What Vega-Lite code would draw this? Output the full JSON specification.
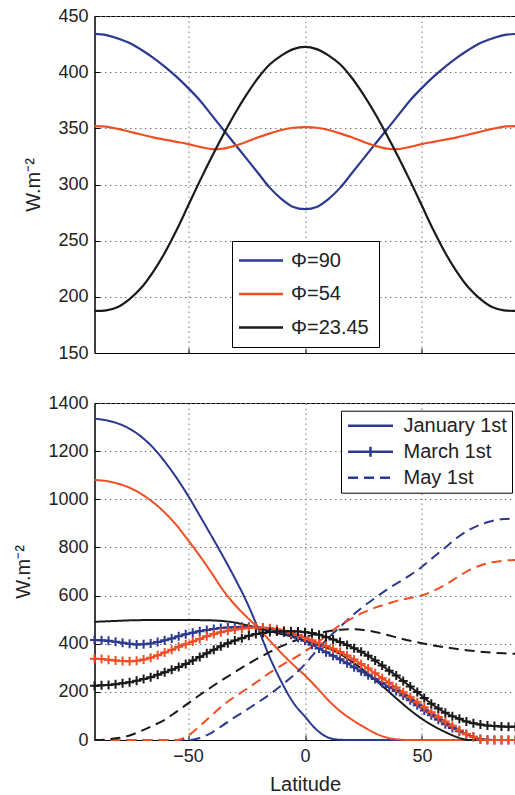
{
"$schema": "https://vega.github.io/schema/vega-lite/v6.json",
"background": "white",
"padding": {"left": 12.5, "top": 6, "right": 0, "bottom": 3},
"spacing": 30,
"config": {
 "font": "Liberation Sans",
 "view": {"stroke": "#000", "strokeWidth": 1},
 "axis": {"labelFont": "Liberation Sans", "labelFontSize": 18, "labelColor": "#222", "titleFont": "Liberation Sans", "titleFontSize": 20, "titleFontWeight": "normal", "titleColor": "#222", "domainColor": "#000", "domainWidth": 1, "tickColor": "#000", "tickSize": -5, "grid": true, "gridColor": "#777", "gridDash": [1.5, 3.5], "gridWidth": 1, "format": "d"},
 "axisY": {"labelPadding": 11.5, "titlePadding": 14},
 "axisX": {"labelPadding": 12, "titlePadding": 9},
 "legend": {"labelFont": "Liberation Sans", "labelFontSize": 20, "labelColor": "#222", "strokeColor": "#000", "fillColor": "#fff", "cornerRadius": 0}
},
"resolve": {"scale": {"color": "independent"}, "legend": {"color": "independent", "strokeDash": "independent"}},
"datasets": {
 "top": [
{"x":-90,"s":"Φ=90","w":434},{"x":-85,"s":"Φ=90","w":433},{"x":-80,"s":"Φ=90","w":430},{"x":-75,"s":"Φ=90","w":426},{"x":-70,"s":"Φ=90","w":420},{"x":-65,"s":"Φ=90","w":413},{"x":-60,"s":"Φ=90","w":405},{"x":-55,"s":"Φ=90","w":396},{"x":-50,"s":"Φ=90","w":386},{"x":-45,"s":"Φ=90","w":375},{"x":-40,"s":"Φ=90","w":362},{"x":-35,"s":"Φ=90","w":349},{"x":-30,"s":"Φ=90","w":336},{"x":-25,"s":"Φ=90","w":323},{"x":-20,"s":"Φ=90","w":310},{"x":-15,"s":"Φ=90","w":297},{"x":-10,"s":"Φ=90","w":287},{"x":-5,"s":"Φ=90","w":280},{"x":0,"s":"Φ=90","w":278},{"x":5,"s":"Φ=90","w":280},{"x":10,"s":"Φ=90","w":287},{"x":15,"s":"Φ=90","w":297},{"x":20,"s":"Φ=90","w":310},{"x":25,"s":"Φ=90","w":323},{"x":30,"s":"Φ=90","w":336},{"x":35,"s":"Φ=90","w":349},{"x":40,"s":"Φ=90","w":362},{"x":45,"s":"Φ=90","w":375},{"x":50,"s":"Φ=90","w":386},{"x":55,"s":"Φ=90","w":396},{"x":60,"s":"Φ=90","w":405},{"x":65,"s":"Φ=90","w":413},{"x":70,"s":"Φ=90","w":420},{"x":75,"s":"Φ=90","w":426},{"x":80,"s":"Φ=90","w":430},{"x":85,"s":"Φ=90","w":433},{"x":90,"s":"Φ=90","w":434},
{"x":-90,"s":"Φ=54","w":352},{"x":-85,"s":"Φ=54","w":351.5},{"x":-80,"s":"Φ=54","w":349.5},{"x":-75,"s":"Φ=54","w":347},{"x":-70,"s":"Φ=54","w":344.5},{"x":-65,"s":"Φ=54","w":342},{"x":-60,"s":"Φ=54","w":340},{"x":-55,"s":"Φ=54","w":338},{"x":-50,"s":"Φ=54","w":336},{"x":-45,"s":"Φ=54","w":333.5},{"x":-40,"s":"Φ=54","w":331.5},{"x":-35,"s":"Φ=54","w":332},{"x":-30,"s":"Φ=54","w":334.5},{"x":-25,"s":"Φ=54","w":338},{"x":-20,"s":"Φ=54","w":342},{"x":-15,"s":"Φ=54","w":345.5},{"x":-10,"s":"Φ=54","w":348.5},{"x":-5,"s":"Φ=54","w":350.5},{"x":0,"s":"Φ=54","w":351},{"x":5,"s":"Φ=54","w":350.5},{"x":10,"s":"Φ=54","w":348.5},{"x":15,"s":"Φ=54","w":345.5},{"x":20,"s":"Φ=54","w":342},{"x":25,"s":"Φ=54","w":338},{"x":30,"s":"Φ=54","w":334.5},{"x":35,"s":"Φ=54","w":332},{"x":40,"s":"Φ=54","w":331.5},{"x":45,"s":"Φ=54","w":333.5},{"x":50,"s":"Φ=54","w":336},{"x":55,"s":"Φ=54","w":338},{"x":60,"s":"Φ=54","w":340},{"x":65,"s":"Φ=54","w":342},{"x":70,"s":"Φ=54","w":344.5},{"x":75,"s":"Φ=54","w":347},{"x":80,"s":"Φ=54","w":349.5},{"x":85,"s":"Φ=54","w":351.5},{"x":90,"s":"Φ=54","w":352},
{"x":-90,"s":"Φ=23.45","w":187.5},{"x":-85,"s":"Φ=23.45","w":188},{"x":-80,"s":"Φ=23.45","w":191},{"x":-75,"s":"Φ=23.45","w":198},{"x":-70,"s":"Φ=23.45","w":208},{"x":-65,"s":"Φ=23.45","w":222},{"x":-60,"s":"Φ=23.45","w":239},{"x":-55,"s":"Φ=23.45","w":259},{"x":-50,"s":"Φ=23.45","w":281},{"x":-45,"s":"Φ=23.45","w":303},{"x":-40,"s":"Φ=23.45","w":324},{"x":-35,"s":"Φ=23.45","w":344},{"x":-30,"s":"Φ=23.45","w":363},{"x":-25,"s":"Φ=23.45","w":380},{"x":-20,"s":"Φ=23.45","w":395},{"x":-15,"s":"Φ=23.45","w":407},{"x":-10,"s":"Φ=23.45","w":415},{"x":-5,"s":"Φ=23.45","w":420.5},{"x":0,"s":"Φ=23.45","w":422.5},{"x":5,"s":"Φ=23.45","w":420.5},{"x":10,"s":"Φ=23.45","w":415},{"x":15,"s":"Φ=23.45","w":407},{"x":20,"s":"Φ=23.45","w":395},{"x":25,"s":"Φ=23.45","w":380},{"x":30,"s":"Φ=23.45","w":363},{"x":35,"s":"Φ=23.45","w":344},{"x":40,"s":"Φ=23.45","w":324},{"x":45,"s":"Φ=23.45","w":303},{"x":50,"s":"Φ=23.45","w":281},{"x":55,"s":"Φ=23.45","w":259},{"x":60,"s":"Φ=23.45","w":239},{"x":65,"s":"Φ=23.45","w":222},{"x":70,"s":"Φ=23.45","w":208},{"x":75,"s":"Φ=23.45","w":198},{"x":80,"s":"Φ=23.45","w":191},{"x":85,"s":"Φ=23.45","w":188},{"x":90,"s":"Φ=23.45","w":187.5}
 ],
 "bot": [
{"x":-90,"s":"90","d":"January 1st","w":1335},{"x":-85,"s":"90","d":"January 1st","w":1328},{"x":-80,"s":"90","d":"January 1st","w":1315},{"x":-75,"s":"90","d":"January 1st","w":1293},{"x":-70,"s":"90","d":"January 1st","w":1260},{"x":-65,"s":"90","d":"January 1st","w":1215},{"x":-60,"s":"90","d":"January 1st","w":1157},{"x":-55,"s":"90","d":"January 1st","w":1090},{"x":-50,"s":"90","d":"January 1st","w":1015},{"x":-45,"s":"90","d":"January 1st","w":932},{"x":-40,"s":"90","d":"January 1st","w":848},{"x":-35,"s":"90","d":"January 1st","w":762},{"x":-30,"s":"90","d":"January 1st","w":672},{"x":-25,"s":"90","d":"January 1st","w":575},{"x":-20,"s":"90","d":"January 1st","w":462},{"x":-15,"s":"90","d":"January 1st","w":342},{"x":-10,"s":"90","d":"January 1st","w":240},{"x":-5,"s":"90","d":"January 1st","w":155},{"x":0,"s":"90","d":"January 1st","w":97},{"x":5,"s":"90","d":"January 1st","w":42},{"x":10,"s":"90","d":"January 1st","w":10},{"x":15,"s":"90","d":"January 1st","w":1},{"x":20,"s":"90","d":"January 1st","w":0},{"x":25,"s":"90","d":"January 1st","w":0},{"x":30,"s":"90","d":"January 1st","w":0},{"x":35,"s":"90","d":"January 1st","w":0},{"x":40,"s":"90","d":"January 1st","w":0},{"x":45,"s":"90","d":"January 1st","w":0},{"x":50,"s":"90","d":"January 1st","w":0},{"x":55,"s":"90","d":"January 1st","w":0},{"x":60,"s":"90","d":"January 1st","w":0},{"x":65,"s":"90","d":"January 1st","w":0},{"x":70,"s":"90","d":"January 1st","w":0},{"x":75,"s":"90","d":"January 1st","w":0},{"x":80,"s":"90","d":"January 1st","w":0},{"x":85,"s":"90","d":"January 1st","w":0},{"x":90,"s":"90","d":"January 1st","w":0},
{"x":-90,"s":"54","d":"January 1st","w":1080},{"x":-85,"s":"54","d":"January 1st","w":1076},{"x":-80,"s":"54","d":"January 1st","w":1065},{"x":-75,"s":"54","d":"January 1st","w":1048},{"x":-70,"s":"54","d":"January 1st","w":1022},{"x":-65,"s":"54","d":"January 1st","w":988},{"x":-60,"s":"54","d":"January 1st","w":945},{"x":-55,"s":"54","d":"January 1st","w":893},{"x":-50,"s":"54","d":"January 1st","w":830},{"x":-45,"s":"54","d":"January 1st","w":765},{"x":-40,"s":"54","d":"January 1st","w":695},{"x":-35,"s":"54","d":"January 1st","w":622},{"x":-30,"s":"54","d":"January 1st","w":562},{"x":-25,"s":"54","d":"January 1st","w":512},{"x":-20,"s":"54","d":"January 1st","w":465},{"x":-15,"s":"54","d":"January 1st","w":412},{"x":-10,"s":"54","d":"January 1st","w":360},{"x":-5,"s":"54","d":"January 1st","w":312},{"x":0,"s":"54","d":"January 1st","w":268},{"x":5,"s":"54","d":"January 1st","w":218},{"x":10,"s":"54","d":"January 1st","w":165},{"x":15,"s":"54","d":"January 1st","w":120},{"x":20,"s":"54","d":"January 1st","w":85},{"x":25,"s":"54","d":"January 1st","w":55},{"x":30,"s":"54","d":"January 1st","w":28},{"x":35,"s":"54","d":"January 1st","w":10},{"x":40,"s":"54","d":"January 1st","w":2},{"x":45,"s":"54","d":"January 1st","w":0},{"x":50,"s":"54","d":"January 1st","w":0},{"x":55,"s":"54","d":"January 1st","w":0},{"x":60,"s":"54","d":"January 1st","w":0},{"x":65,"s":"54","d":"January 1st","w":0},{"x":70,"s":"54","d":"January 1st","w":0},{"x":75,"s":"54","d":"January 1st","w":0},{"x":80,"s":"54","d":"January 1st","w":0},{"x":85,"s":"54","d":"January 1st","w":0},{"x":90,"s":"54","d":"January 1st","w":0},
{"x":-90,"s":"23.45","d":"January 1st","w":491},{"x":-85,"s":"23.45","d":"January 1st","w":493},{"x":-80,"s":"23.45","d":"January 1st","w":495},{"x":-75,"s":"23.45","d":"January 1st","w":497},{"x":-70,"s":"23.45","d":"January 1st","w":498},{"x":-65,"s":"23.45","d":"January 1st","w":499},{"x":-60,"s":"23.45","d":"January 1st","w":499},{"x":-55,"s":"23.45","d":"January 1st","w":499},{"x":-50,"s":"23.45","d":"January 1st","w":499},{"x":-45,"s":"23.45","d":"January 1st","w":498},{"x":-40,"s":"23.45","d":"January 1st","w":497},{"x":-35,"s":"23.45","d":"January 1st","w":494},{"x":-30,"s":"23.45","d":"January 1st","w":488},{"x":-25,"s":"23.45","d":"January 1st","w":477},{"x":-20,"s":"23.45","d":"January 1st","w":465},{"x":-15,"s":"23.45","d":"January 1st","w":452},{"x":-10,"s":"23.45","d":"January 1st","w":440},{"x":-5,"s":"23.45","d":"January 1st","w":428},{"x":0,"s":"23.45","d":"January 1st","w":412},{"x":5,"s":"23.45","d":"January 1st","w":397},{"x":10,"s":"23.45","d":"January 1st","w":381},{"x":15,"s":"23.45","d":"January 1st","w":357},{"x":20,"s":"23.45","d":"January 1st","w":326},{"x":25,"s":"23.45","d":"January 1st","w":290},{"x":30,"s":"23.45","d":"January 1st","w":250},{"x":35,"s":"23.45","d":"January 1st","w":208},{"x":40,"s":"23.45","d":"January 1st","w":165},{"x":45,"s":"23.45","d":"January 1st","w":124},{"x":50,"s":"23.45","d":"January 1st","w":88},{"x":55,"s":"23.45","d":"January 1st","w":58},{"x":60,"s":"23.45","d":"January 1st","w":33},{"x":65,"s":"23.45","d":"January 1st","w":12},{"x":70,"s":"23.45","d":"January 1st","w":0},{"x":75,"s":"23.45","d":"January 1st","w":0},{"x":80,"s":"23.45","d":"January 1st","w":0},{"x":85,"s":"23.45","d":"January 1st","w":0},{"x":90,"s":"23.45","d":"January 1st","w":0},
{"x":-90,"s":"90","d":"March 1st","w":415},{"x":-87,"s":"90","d":"March 1st","w":414},{"x":-84,"s":"90","d":"March 1st","w":412},{"x":-81,"s":"90","d":"March 1st","w":408},{"x":-78,"s":"90","d":"March 1st","w":404},{"x":-75,"s":"90","d":"March 1st","w":400},{"x":-72,"s":"90","d":"March 1st","w":397},{"x":-69,"s":"90","d":"March 1st","w":398},{"x":-66,"s":"90","d":"March 1st","w":401},{"x":-63,"s":"90","d":"March 1st","w":407},{"x":-60,"s":"90","d":"March 1st","w":414},{"x":-57,"s":"90","d":"March 1st","w":422},{"x":-54,"s":"90","d":"March 1st","w":431},{"x":-51,"s":"90","d":"March 1st","w":439},{"x":-48,"s":"90","d":"March 1st","w":446},{"x":-45,"s":"90","d":"March 1st","w":452},{"x":-42,"s":"90","d":"March 1st","w":457},{"x":-39,"s":"90","d":"March 1st","w":461},{"x":-36,"s":"90","d":"March 1st","w":465},{"x":-33,"s":"90","d":"March 1st","w":467},{"x":-30,"s":"90","d":"March 1st","w":469},{"x":-27,"s":"90","d":"March 1st","w":470},{"x":-24,"s":"90","d":"March 1st","w":470},{"x":-21,"s":"90","d":"March 1st","w":469},{"x":-18,"s":"90","d":"March 1st","w":466},{"x":-15,"s":"90","d":"March 1st","w":462},{"x":-12,"s":"90","d":"March 1st","w":455},{"x":-9,"s":"90","d":"March 1st","w":447},{"x":-6,"s":"90","d":"March 1st","w":437},{"x":-3,"s":"90","d":"March 1st","w":425},{"x":0,"s":"90","d":"March 1st","w":412},{"x":3,"s":"90","d":"March 1st","w":396},{"x":6,"s":"90","d":"March 1st","w":380},{"x":9,"s":"90","d":"March 1st","w":365},{"x":12,"s":"90","d":"March 1st","w":350},{"x":15,"s":"90","d":"March 1st","w":335},{"x":18,"s":"90","d":"March 1st","w":319},{"x":21,"s":"90","d":"March 1st","w":302},{"x":24,"s":"90","d":"March 1st","w":286},{"x":27,"s":"90","d":"March 1st","w":269},{"x":30,"s":"90","d":"March 1st","w":253},{"x":33,"s":"90","d":"March 1st","w":237},{"x":36,"s":"90","d":"March 1st","w":220},{"x":39,"s":"90","d":"March 1st","w":204},{"x":42,"s":"90","d":"March 1st","w":185},{"x":45,"s":"90","d":"March 1st","w":165},{"x":48,"s":"90","d":"March 1st","w":144},{"x":51,"s":"90","d":"March 1st","w":123},{"x":54,"s":"90","d":"March 1st","w":103},{"x":57,"s":"90","d":"March 1st","w":84},{"x":60,"s":"90","d":"March 1st","w":65},{"x":63,"s":"90","d":"March 1st","w":50},{"x":66,"s":"90","d":"March 1st","w":36},{"x":69,"s":"90","d":"March 1st","w":24},{"x":72,"s":"90","d":"March 1st","w":13},{"x":75,"s":"90","d":"March 1st","w":4},{"x":78,"s":"90","d":"March 1st","w":1},{"x":81,"s":"90","d":"March 1st","w":0},{"x":84,"s":"90","d":"March 1st","w":0},{"x":87,"s":"90","d":"March 1st","w":0},{"x":90,"s":"90","d":"March 1st","w":0},
{"x":-90,"s":"54","d":"March 1st","w":338},{"x":-87,"s":"54","d":"March 1st","w":336},{"x":-84,"s":"54","d":"March 1st","w":333},{"x":-81,"s":"54","d":"March 1st","w":330},{"x":-78,"s":"54","d":"March 1st","w":328},{"x":-75,"s":"54","d":"March 1st","w":327},{"x":-72,"s":"54","d":"March 1st","w":329},{"x":-69,"s":"54","d":"March 1st","w":334},{"x":-66,"s":"54","d":"March 1st","w":342},{"x":-63,"s":"54","d":"March 1st","w":352},{"x":-60,"s":"54","d":"March 1st","w":363},{"x":-57,"s":"54","d":"March 1st","w":375},{"x":-54,"s":"54","d":"March 1st","w":387},{"x":-51,"s":"54","d":"March 1st","w":398},{"x":-48,"s":"54","d":"March 1st","w":409},{"x":-45,"s":"54","d":"March 1st","w":420},{"x":-42,"s":"54","d":"March 1st","w":431},{"x":-39,"s":"54","d":"March 1st","w":440},{"x":-36,"s":"54","d":"March 1st","w":448},{"x":-33,"s":"54","d":"March 1st","w":454},{"x":-30,"s":"54","d":"March 1st","w":459},{"x":-27,"s":"54","d":"March 1st","w":463},{"x":-24,"s":"54","d":"March 1st","w":466},{"x":-21,"s":"54","d":"March 1st","w":467},{"x":-18,"s":"54","d":"March 1st","w":466},{"x":-15,"s":"54","d":"March 1st","w":464},{"x":-12,"s":"54","d":"March 1st","w":460},{"x":-9,"s":"54","d":"March 1st","w":454},{"x":-6,"s":"54","d":"March 1st","w":446},{"x":-3,"s":"54","d":"March 1st","w":436},{"x":0,"s":"54","d":"March 1st","w":426},{"x":3,"s":"54","d":"March 1st","w":414},{"x":6,"s":"54","d":"March 1st","w":402},{"x":9,"s":"54","d":"March 1st","w":391},{"x":12,"s":"54","d":"March 1st","w":379},{"x":15,"s":"54","d":"March 1st","w":366},{"x":18,"s":"54","d":"March 1st","w":351},{"x":21,"s":"54","d":"March 1st","w":334},{"x":24,"s":"54","d":"March 1st","w":316},{"x":27,"s":"54","d":"March 1st","w":297},{"x":30,"s":"54","d":"March 1st","w":277},{"x":33,"s":"54","d":"March 1st","w":257},{"x":36,"s":"54","d":"March 1st","w":238},{"x":39,"s":"54","d":"March 1st","w":218},{"x":42,"s":"54","d":"March 1st","w":198},{"x":45,"s":"54","d":"March 1st","w":178},{"x":48,"s":"54","d":"March 1st","w":157},{"x":51,"s":"54","d":"March 1st","w":136},{"x":54,"s":"54","d":"March 1st","w":115},{"x":57,"s":"54","d":"March 1st","w":96},{"x":60,"s":"54","d":"March 1st","w":77},{"x":63,"s":"54","d":"March 1st","w":59},{"x":66,"s":"54","d":"March 1st","w":41},{"x":69,"s":"54","d":"March 1st","w":25},{"x":72,"s":"54","d":"March 1st","w":12},{"x":75,"s":"54","d":"March 1st","w":2},{"x":78,"s":"54","d":"March 1st","w":0},{"x":81,"s":"54","d":"March 1st","w":0},{"x":84,"s":"54","d":"March 1st","w":0},{"x":87,"s":"54","d":"March 1st","w":0},{"x":90,"s":"54","d":"March 1st","w":0},
{"x":-90,"s":"23.45","d":"March 1st","w":225},{"x":-87,"s":"23.45","d":"March 1st","w":227},{"x":-84,"s":"23.45","d":"March 1st","w":229},{"x":-81,"s":"23.45","d":"March 1st","w":232},{"x":-78,"s":"23.45","d":"March 1st","w":236},{"x":-75,"s":"23.45","d":"March 1st","w":240},{"x":-72,"s":"23.45","d":"March 1st","w":246},{"x":-69,"s":"23.45","d":"March 1st","w":253},{"x":-66,"s":"23.45","d":"March 1st","w":261},{"x":-63,"s":"23.45","d":"March 1st","w":271},{"x":-60,"s":"23.45","d":"March 1st","w":281},{"x":-57,"s":"23.45","d":"March 1st","w":292},{"x":-54,"s":"23.45","d":"March 1st","w":303},{"x":-51,"s":"23.45","d":"March 1st","w":316},{"x":-48,"s":"23.45","d":"March 1st","w":330},{"x":-45,"s":"23.45","d":"March 1st","w":345},{"x":-42,"s":"23.45","d":"March 1st","w":360},{"x":-39,"s":"23.45","d":"March 1st","w":375},{"x":-36,"s":"23.45","d":"March 1st","w":389},{"x":-33,"s":"23.45","d":"March 1st","w":402},{"x":-30,"s":"23.45","d":"March 1st","w":413},{"x":-27,"s":"23.45","d":"March 1st","w":423},{"x":-24,"s":"23.45","d":"March 1st","w":433},{"x":-21,"s":"23.45","d":"March 1st","w":440},{"x":-18,"s":"23.45","d":"March 1st","w":445},{"x":-15,"s":"23.45","d":"March 1st","w":449},{"x":-12,"s":"23.45","d":"March 1st","w":451},{"x":-9,"s":"23.45","d":"March 1st","w":452},{"x":-6,"s":"23.45","d":"March 1st","w":452},{"x":-3,"s":"23.45","d":"March 1st","w":451},{"x":0,"s":"23.45","d":"March 1st","w":448},{"x":3,"s":"23.45","d":"March 1st","w":444},{"x":6,"s":"23.45","d":"March 1st","w":437},{"x":9,"s":"23.45","d":"March 1st","w":428},{"x":12,"s":"23.45","d":"March 1st","w":418},{"x":15,"s":"23.45","d":"March 1st","w":407},{"x":18,"s":"23.45","d":"March 1st","w":395},{"x":21,"s":"23.45","d":"March 1st","w":381},{"x":24,"s":"23.45","d":"March 1st","w":367},{"x":27,"s":"23.45","d":"March 1st","w":350},{"x":30,"s":"23.45","d":"March 1st","w":330},{"x":33,"s":"23.45","d":"March 1st","w":309},{"x":36,"s":"23.45","d":"March 1st","w":288},{"x":39,"s":"23.45","d":"March 1st","w":268},{"x":42,"s":"23.45","d":"March 1st","w":245},{"x":45,"s":"23.45","d":"March 1st","w":222},{"x":48,"s":"23.45","d":"March 1st","w":199},{"x":51,"s":"23.45","d":"March 1st","w":175},{"x":54,"s":"23.45","d":"March 1st","w":151},{"x":57,"s":"23.45","d":"March 1st","w":131},{"x":60,"s":"23.45","d":"March 1st","w":113},{"x":63,"s":"23.45","d":"March 1st","w":99},{"x":66,"s":"23.45","d":"March 1st","w":88},{"x":69,"s":"23.45","d":"March 1st","w":77},{"x":72,"s":"23.45","d":"March 1st","w":70},{"x":75,"s":"23.45","d":"March 1st","w":64},{"x":78,"s":"23.45","d":"March 1st","w":60},{"x":81,"s":"23.45","d":"March 1st","w":58},{"x":84,"s":"23.45","d":"March 1st","w":56},{"x":87,"s":"23.45","d":"March 1st","w":55},{"x":90,"s":"23.45","d":"March 1st","w":55},
{"x":-90,"s":"90","d":"May 1st","w":0},{"x":-85,"s":"90","d":"May 1st","w":0},{"x":-80,"s":"90","d":"May 1st","w":0},{"x":-75,"s":"90","d":"May 1st","w":0},{"x":-70,"s":"90","d":"May 1st","w":0},{"x":-65,"s":"90","d":"May 1st","w":0},{"x":-60,"s":"90","d":"May 1st","w":0},{"x":-55,"s":"90","d":"May 1st","w":0},{"x":-50,"s":"90","d":"May 1st","w":0},{"x":-45,"s":"90","d":"May 1st","w":8},{"x":-40,"s":"90","d":"May 1st","w":30},{"x":-35,"s":"90","d":"May 1st","w":62},{"x":-30,"s":"90","d":"May 1st","w":95},{"x":-25,"s":"90","d":"May 1st","w":125},{"x":-20,"s":"90","d":"May 1st","w":157},{"x":-15,"s":"90","d":"May 1st","w":190},{"x":-10,"s":"90","d":"May 1st","w":228},{"x":-5,"s":"90","d":"May 1st","w":268},{"x":0,"s":"90","d":"May 1st","w":315},{"x":5,"s":"90","d":"May 1st","w":372},{"x":10,"s":"90","d":"May 1st","w":425},{"x":15,"s":"90","d":"May 1st","w":470},{"x":20,"s":"90","d":"May 1st","w":515},{"x":25,"s":"90","d":"May 1st","w":555},{"x":30,"s":"90","d":"May 1st","w":590},{"x":35,"s":"90","d":"May 1st","w":625},{"x":40,"s":"90","d":"May 1st","w":655},{"x":45,"s":"90","d":"May 1st","w":685},{"x":50,"s":"90","d":"May 1st","w":720},{"x":55,"s":"90","d":"May 1st","w":760},{"x":60,"s":"90","d":"May 1st","w":800},{"x":65,"s":"90","d":"May 1st","w":840},{"x":70,"s":"90","d":"May 1st","w":872},{"x":75,"s":"90","d":"May 1st","w":895},{"x":80,"s":"90","d":"May 1st","w":910},{"x":85,"s":"90","d":"May 1st","w":918},{"x":90,"s":"90","d":"May 1st","w":920},
{"x":-90,"s":"54","d":"May 1st","w":0},{"x":-85,"s":"54","d":"May 1st","w":0},{"x":-80,"s":"54","d":"May 1st","w":0},{"x":-75,"s":"54","d":"May 1st","w":0},{"x":-70,"s":"54","d":"May 1st","w":0},{"x":-65,"s":"54","d":"May 1st","w":0},{"x":-60,"s":"54","d":"May 1st","w":0},{"x":-55,"s":"54","d":"May 1st","w":0},{"x":-50,"s":"54","d":"May 1st","w":18},{"x":-45,"s":"54","d":"May 1st","w":58},{"x":-40,"s":"54","d":"May 1st","w":102},{"x":-35,"s":"54","d":"May 1st","w":145},{"x":-30,"s":"54","d":"May 1st","w":180},{"x":-25,"s":"54","d":"May 1st","w":212},{"x":-20,"s":"54","d":"May 1st","w":245},{"x":-15,"s":"54","d":"May 1st","w":280},{"x":-10,"s":"54","d":"May 1st","w":310},{"x":-5,"s":"54","d":"May 1st","w":338},{"x":0,"s":"54","d":"May 1st","w":368},{"x":5,"s":"54","d":"May 1st","w":402},{"x":10,"s":"54","d":"May 1st","w":440},{"x":15,"s":"54","d":"May 1st","w":478},{"x":20,"s":"54","d":"May 1st","w":505},{"x":25,"s":"54","d":"May 1st","w":530},{"x":30,"s":"54","d":"May 1st","w":550},{"x":35,"s":"54","d":"May 1st","w":565},{"x":40,"s":"54","d":"May 1st","w":580},{"x":45,"s":"54","d":"May 1st","w":590},{"x":50,"s":"54","d":"May 1st","w":600},{"x":55,"s":"54","d":"May 1st","w":620},{"x":60,"s":"54","d":"May 1st","w":645},{"x":65,"s":"54","d":"May 1st","w":675},{"x":70,"s":"54","d":"May 1st","w":705},{"x":75,"s":"54","d":"May 1st","w":725},{"x":80,"s":"54","d":"May 1st","w":738},{"x":85,"s":"54","d":"May 1st","w":745},{"x":90,"s":"54","d":"May 1st","w":748},
{"x":-90,"s":"23.45","d":"May 1st","w":0},{"x":-85,"s":"23.45","d":"May 1st","w":2},{"x":-80,"s":"23.45","d":"May 1st","w":8},{"x":-75,"s":"23.45","d":"May 1st","w":19},{"x":-70,"s":"23.45","d":"May 1st","w":38},{"x":-65,"s":"23.45","d":"May 1st","w":60},{"x":-60,"s":"23.45","d":"May 1st","w":84},{"x":-55,"s":"23.45","d":"May 1st","w":117},{"x":-50,"s":"23.45","d":"May 1st","w":152},{"x":-45,"s":"23.45","d":"May 1st","w":187},{"x":-40,"s":"23.45","d":"May 1st","w":220},{"x":-35,"s":"23.45","d":"May 1st","w":252},{"x":-30,"s":"23.45","d":"May 1st","w":282},{"x":-25,"s":"23.45","d":"May 1st","w":312},{"x":-20,"s":"23.45","d":"May 1st","w":340},{"x":-15,"s":"23.45","d":"May 1st","w":366},{"x":-10,"s":"23.45","d":"May 1st","w":390},{"x":-5,"s":"23.45","d":"May 1st","w":410},{"x":0,"s":"23.45","d":"May 1st","w":427},{"x":5,"s":"23.45","d":"May 1st","w":442},{"x":10,"s":"23.45","d":"May 1st","w":452},{"x":15,"s":"23.45","d":"May 1st","w":458},{"x":20,"s":"23.45","d":"May 1st","w":460},{"x":25,"s":"23.45","d":"May 1st","w":457},{"x":30,"s":"23.45","d":"May 1st","w":449},{"x":35,"s":"23.45","d":"May 1st","w":437},{"x":40,"s":"23.45","d":"May 1st","w":424},{"x":45,"s":"23.45","d":"May 1st","w":412},{"x":50,"s":"23.45","d":"May 1st","w":402},{"x":55,"s":"23.45","d":"May 1st","w":393},{"x":60,"s":"23.45","d":"May 1st","w":385},{"x":65,"s":"23.45","d":"May 1st","w":378},{"x":70,"s":"23.45","d":"May 1st","w":372},{"x":75,"s":"23.45","d":"May 1st","w":367},{"x":80,"s":"23.45","d":"May 1st","w":363},{"x":85,"s":"23.45","d":"May 1st","w":360},{"x":90,"s":"23.45","d":"May 1st","w":358}
 ]
},
"vconcat": [
 {
  "width": 421, "height": 337,
  "data": {"name": "top"},
  "mark": {"type": "line", "strokeWidth": 2.2, "interpolate": "catmull-rom"},
  "encoding": {
   "x": {"field": "x", "type": "quantitative", "scale": {"domain": [-90, 90], "nice": false}, "axis": {"labels": false, "title": null, "values": [-50, 0, 50]}},
   "y": {"field": "w", "type": "quantitative", "scale": {"domain": [150, 450], "nice": false}, "axis": {"title": "W.m⁻²", "values": [150, 200, 250, 300, 350, 400, 450]}},
   "color": {"field": "s", "type": "nominal", "sort": null, "scale": {"domain": ["Φ=90", "Φ=54", "Φ=23.45"], "range": ["#2b3990", "#f04e23", "#1a1a1a"]},
    "legend": {"title": null, "orient": "none", "legendX": 137.5, "legendY": 225, "symbolType": "M-2.933,0H2.933", "symbolSize": 225, "symbolStrokeWidth": 2.5, "symbolOffset": 9.5, "labelOffset": 20, "padding": 9.5, "rowPadding": 13.5}}
  }
 },
 {
  "width": 421, "height": 337,
  "data": {"name": "bot"},
  "layer": [
   {
    "mark": {"type": "line", "strokeWidth": 2, "interpolate": "monotone"},
    "encoding": {
     "x": {"field": "x", "type": "quantitative", "scale": {"domain": [-90, 90], "nice": false}, "axis": {"title": "Latitude", "values": [-50, 0, 50]}},
     "y": {"field": "w", "type": "quantitative", "scale": {"domain": [0, 1400], "nice": false}, "axis": {"title": "W.m⁻²", "values": [0, 200, 400, 600, 800, 1000, 1200, 1400]}},
     "color": {"field": "s", "type": "nominal", "scale": {"domain": ["90", "54", "23.45"], "range": ["#2b3990", "#f04e23", "#1a1a1a"]}, "legend": null},
     "strokeDash": {"field": "d", "type": "nominal", "scale": {"domain": ["January 1st", "March 1st", "May 1st"], "range": [[1, 0], [1, 0], [10, 6]]},
      "legend": {"title": null, "orient": "none", "legendX": 246.5, "legendY": 7.7, "symbolSize": 225, "symbolStrokeWidth": 2.5, "symbolStrokeColor": "#2b3990", "symbolOffset": 14.5, "labelOffset": 23, "padding": 5, "rowPadding": 5,
       "encode": {"symbols": {"update": {"shape": {"signal": "datum.value === 'March 1st' ? 'M-3,0H3M0,-0.67V0.67' : 'M-3,0H3'"}, "stroke": {"value": "#2b3990"}, "strokeWidth": {"value": 2.5}}}}}}
    }
   },
   {
    "transform": [{"filter": "datum.d == 'March 1st'"}],
    "mark": {"type": "point", "shape": "M-1,0H1M0,-1V1", "size": 81, "filled": false, "strokeWidth": 2, "opacity": 1},
    "encoding": {
     "x": {"field": "x", "type": "quantitative"},
     "y": {"field": "w", "type": "quantitative"},
     "color": {"field": "s", "type": "nominal", "scale": {"domain": ["90", "54", "23.45"], "range": ["#2b3990", "#f04e23", "#1a1a1a"]}, "legend": null}
    }
   }
  ]
 }
]
}
